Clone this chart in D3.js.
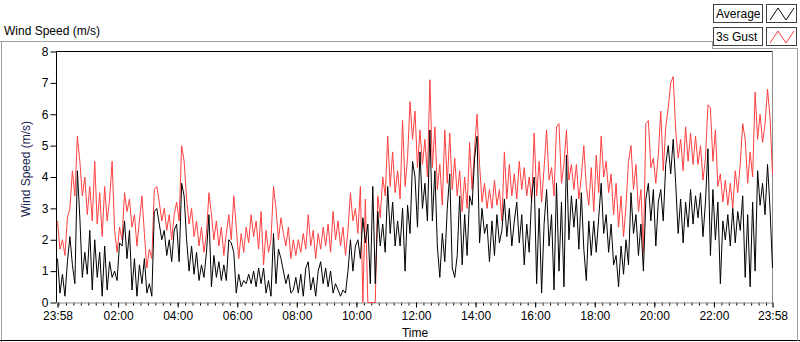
<!DOCTYPE html>
<html>
<head>
<meta charset="utf-8">
<script src="https://cdn.jsdelivr.net/npm/d3@7"></script>
<style>
	body { margin: 0; background: #fff; }
	svg { display: block; font-family: "Liberation Sans", Arial, sans-serif; font-size: 12px; }
	.line { fill: none; stroke-width: 1; }
	.axis text { fill: #000; font-size: 12px; }
</style>
</head>
<body>
<svg class="windChart" width="800" height="342"></svg>
<script>

/* Wind speed log: one sample every 5 minutes, from 23:58 to 23:58 next day */
var startTime = "2014-01-01 23:58";
var stepMinutes = 5;

var seriesNames = ["Average", "3s Gust"];

var gustValues = [
	2.6,1.7,2.0,1.5,2.7,3.0,4.2,3.4,5.3,4.5,
	3.4,4.0,2.8,3.7,2.6,4.5,2.5,3.5,2.1,3.7,
	2.6,3.3,4.5,2.3,1.6,2.4,2.0,3.5,2.9,3.3,
	2.4,2.8,1.8,2.6,3.4,2.2,1.1,1.7,1.4,3.6,
	3.7,3.2,2.6,3.0,2.3,2.8,2.0,2.8,3.2,2.6,
	5.0,4.5,3.3,2.5,3.0,2.1,2.6,1.8,2.4,1.6,
	2.2,3.5,2.8,2.0,2.6,1.8,2.4,1.5,2.2,2.8,
	2.0,3.4,2.4,1.4,2.2,1.6,2.4,1.9,2.8,2.1,
	2.6,1.7,2.9,1.2,2.3,1.6,2.0,3.7,3.0,2.0,
	2.7,2.2,1.8,2.4,1.4,2.0,1.5,2.0,1.6,2.2,
	1.7,2.8,1.8,2.3,1.4,2.2,1.7,2.4,1.8,2.5,
	1.6,2.9,2.0,2.6,1.8,2.4,1.5,2.3,3.5,2.6,
	3.0,2.2,3.7,0.0,3.3,0.0,0.0,0.0,0.0,3.4,
	2.7,4.0,3.4,5.3,3.7,4.8,3.5,4.2,3.3,5.8,
	3.7,4.6,6.4,5.2,6.1,4.3,5.5,4.4,5.2,4.0,
	7.1,4.3,5.6,3.6,4.4,3.1,5.5,3.8,5.4,3.6,
	4.6,3.4,4.2,2.9,4.0,3.0,5.1,3.6,4.9,6.0,
	4.4,3.2,3.8,3.0,3.6,3.0,3.9,3.1,3.6,2.6,
	4.8,3.3,4.4,3.4,4.1,3.3,4.5,3.6,4.3,3.4,
	4.0,3.2,5.4,3.4,4.5,3.2,4.3,5.5,3.9,4.3,
	3.4,5.6,5.7,3.8,4.4,5.5,3.9,4.4,3.6,4.4,
	3.3,4.0,5.0,3.7,3.1,4.3,2.9,4.7,3.5,5.3,
	4.0,4.5,3.5,4.1,2.8,3.8,2.4,3.4,2.1,3.1,
	4.5,5.0,3.6,4.4,2.9,3.6,1.6,5.7,5.8,4.3,
	4.6,3.8,4.7,6.1,4.2,5.6,6.2,7.0,7.2,5.5,
	4.6,5.2,4.2,5.6,4.5,5.4,4.4,5.3,4.4,5.0,
	3.9,4.6,6.3,6.2,4.5,5.5,3.7,4.1,3.2,3.9,
	3.1,3.8,3.0,4.2,3.5,4.4,5.7,5.2,3.8,4.8,
	4.0,6.7,5.2,6.0,5.1,5.7,6.8,5.9,4.1
];

var averageValues = [
	1.4,0.3,0.9,0.2,1.3,2.1,1.2,0.6,4.2,2.7,
	0.8,1.6,0.9,2.3,0.4,2.0,0.8,1.6,0.2,1.8,
	0.4,1.3,0.8,1.0,0.7,1.9,1.8,2.6,1.4,2.3,
	0.4,1.4,0.2,1.2,0.6,1.4,0.3,0.6,0.2,2.9,
	3.0,2.5,2.0,2.3,1.5,2.0,1.3,2.3,2.5,1.3,
	3.8,3.4,2.0,1.0,1.8,0.9,1.6,0.7,1.2,0.8,
	1.6,2.8,0.5,1.5,0.8,1.3,0.7,1.2,0.7,2.0,
	1.9,1.6,0.3,0.9,0.5,0.7,0.6,0.9,0.6,1.0,
	0.5,1.1,0.6,1.1,0.3,0.7,0.2,2.2,0.6,1.7,
	1.4,1.0,0.6,0.9,0.3,0.4,0.8,0.3,0.9,0.2,
	1.1,1.3,0.4,0.8,0.2,1.0,1.3,0.6,1.1,0.5,
	1.0,0.3,0.6,0.4,0.2,0.4,0.3,1.0,2.0,1.0,
	1.8,2.0,1.4,2.7,1.9,2.5,0.6,3.7,0.6,2.9,
	1.8,2.5,1.6,3.7,2.2,3.2,1.8,2.6,1.8,3.0,
	1.0,3.1,2.2,4.5,4.0,2.4,4.8,3.0,3.8,2.6,
	5.5,2.6,4.2,1.8,0.8,2.2,1.3,3.0,4.1,1.1,
	0.8,1.5,3.4,1.2,2.8,1.5,3.4,3.1,4.6,5.3,
	1.9,3.0,2.2,2.5,1.3,2.6,1.5,2.8,1.9,2.3,
	3.3,2.1,3.0,1.8,2.6,3.2,1.9,2.8,1.2,2.5,
	1.6,3.4,4.0,0.6,3.0,0.3,2.5,3.6,1.8,2.8,
	0.4,3.8,1.0,3.2,0.5,4.7,2.0,3.4,2.4,3.3,
	1.7,3.5,1.7,0.7,2.6,1.5,2.6,1.6,2.7,3.8,
	2.2,2.8,1.6,2.5,1.2,1.5,0.5,1.8,0.9,2.0,
	1.2,3.5,2.2,2.8,1.5,2.5,1.0,3.3,3.8,2.6,
	3.6,1.8,3.2,3.6,2.6,4.4,5.0,4.1,5.2,3.8,
	2.2,3.3,1.9,3.2,2.4,3.6,2.5,3.4,2.7,3.5,
	2.1,3.2,4.9,1.5,3.6,2.0,3.2,0.6,2.6,2.0,
	2.8,1.8,3.0,1.9,2.9,2.3,3.4,0.8,2.8,0.5,
	3.2,1.0,4.2,3.1,3.8,2.8,4.4,3.0,1.1
];

var yTickValues = [0, 1, 2, 3, 4, 5, 6, 7, 8];

var xTickTimes = [
	"2014-01-01 23:58", "2014-01-02 02:00", "2014-01-02 04:00", "2014-01-02 06:00",
	"2014-01-02 08:00", "2014-01-02 10:00", "2014-01-02 12:00", "2014-01-02 14:00",
	"2014-01-02 16:00", "2014-01-02 18:00", "2014-01-02 20:00", "2014-01-02 22:00",
	"2014-01-02 23:58"
];


function drawGraph(areaID) {

	var parseTime = d3.timeParse("%Y-%m-%d %H:%M");
	var formatTime = d3.timeFormat("%H:%M");

	var start = parseTime(startTime);
	var ticks = xTickTimes.map(parseTime);
	var end = ticks[ticks.length - 1];

	// Build the two series
	var series = [averageValues, gustValues].map(function(values, k) {
		return {
			name: seriesNames[k],
			values: values.map(function(v, i) {
				return { date: d3.timeMinute.offset(start, i * stepMinutes), value: v };
			})
		};
	});
	var colors = { "Average": "#000000", "3s Gust": "#ff4040" };

	var plot = { left: 57.5, right: 772.5, top: 51.5, bottom: 302.5 };

	var x = d3.scaleTime()
		.domain([start, end])
		.range([plot.left, plot.right]);

	var y = d3.scaleLinear()
		.domain([0, 8])
		.range([plot.bottom, plot.top]);

	var svg = d3.select("." + areaID);

	// Outer frame of the chart control
	var frame = svg.append("g").attr("class", "frame");
	frame.append("line").attr("x1", 0).attr("x2", 712).attr("y1", 41.5).attr("y2", 41.5).attr("stroke", "#a0a0a0");
	frame.append("line").attr("x1", 1.5).attr("x2", 1.5).attr("y1", 41).attr("y2", 342).attr("stroke", "#a0a0a0");
	frame.append("line").attr("x1", 0).attr("x2", 800).attr("y1", 340.5).attr("y2", 340.5).attr("stroke", "#000");
	frame.append("line").attr("x1", 712).attr("x2", 798).attr("y1", 48.5).attr("y2", 48.5).attr("stroke", "#a0a0a0");
	frame.append("line").attr("x1", 712.5).attr("x2", 712.5).attr("y1", 41).attr("y2", 49).attr("stroke", "#a0a0a0");
	frame.append("line").attr("x1", 797.5).attr("x2", 797.5).attr("y1", 48).attr("y2", 341).attr("stroke", "#a0a0a0");

	// Chart caption
	svg.append("text")
		.attr("x", 4)
		.attr("y", 35)
		.style("font-size", "12px")
		.text("Wind Speed (m/s)");

	// Plot border: top black, right gray
	svg.append("line")
		.attr("x1", plot.left - 1).attr("x2", plot.right)
		.attr("y1", plot.top).attr("y2", plot.top)
		.attr("stroke", "#000");
	svg.append("line")
		.attr("x1", plot.right).attr("x2", plot.right)
		.attr("y1", plot.top).attr("y2", plot.bottom)
		.attr("stroke", "#8c8c8c");

	// Minor x ticks every 15 minutes
	var minorAxis = d3.axisBottom(x)
		.tickValues(d3.timeMinute.every(15).range(start, end))
		.tickSize(3)
		.tickFormat("");
	svg.append("g")
		.attr("class", "x minor axis")
		.attr("transform", "translate(0," + plot.bottom + ")")
		.call(minorAxis)
		.call(function(g) { g.select(".domain").remove(); });

	// Major x axis
	var xAxis = d3.axisBottom(x)
		.tickValues(ticks)
		.tickSize(5)
		.tickPadding(4)
		.tickFormat(formatTime);
	var gx = svg.append("g")
		.attr("class", "x axis")
		.attr("transform", "translate(0," + plot.bottom + ")")
		.call(xAxis);
	gx.select(".domain").attr("stroke", "#8c8c8c");
	gx.selectAll("text").attr("font-family", null);

	// Y axis
	var yAxis = d3.axisLeft(y)
		.tickValues(yTickValues)
		.tickSize(6)
		.tickPadding(2);
	var gy = svg.append("g")
		.attr("class", "y axis")
		.attr("transform", "translate(" + (plot.left - 1) + ",0)")
		.call(yAxis);
	gy.select(".domain").attr("d", "M0," + plot.top + "V" + plot.bottom);
	gy.selectAll("text").attr("font-family", null);

	// Axis titles
	svg.append("text")
		.attr("transform", "translate(30," + ((plot.top + plot.bottom) / 2 - 8) + ") rotate(-90)")
		.attr("text-anchor", "middle")
		.attr("fill", "#1c2450")
		.text("Wind Speed (m/s)");

	svg.append("text")
		.attr("x", (plot.left + plot.right) / 2)
		.attr("y", 337)
		.attr("text-anchor", "middle")
		.text("Time");

	// Draw lines, gust first so the average sits on top
	var valueline = d3.line()
		.x(function(d) { return x(d.date); })
		.y(function(d) { return y(d.value); });

	svg.selectAll(".line")
		.data([series[1], series[0]])
	  .enter().append("path")
		.attr("class", "line")
		.attr("stroke", function(d) { return colors[d.name]; })
		.attr("d", function(d) { return valueline(d.values); });

	// Plot legend, top right
	var legend = svg.selectAll(".legend")
		.data(series)
	  .enter().append("g")
		.attr("class", "legend")
		.attr("transform", function(d, i) { return "translate(0," + (i * 23) + ")"; });

	legend.append("rect")
		.attr("x", 713.5).attr("y", 4.5)
		.attr("width", 49).attr("height", 18)
		.attr("fill", "#fff")
		.attr("stroke", "#404040");

	legend.append("text")
		.attr("x", 716)
		.attr("y", 18)
		.text(function(d) { return d.name; });

	legend.append("rect")
		.attr("x", 766.5).attr("y", 4.5)
		.attr("width", 30).attr("height", 18)
		.attr("fill", "#fff")
		.attr("stroke", "#404040");

	legend.append("path")
		.attr("fill", "none")
		.attr("stroke", function(d) { return colors[d.name]; })
		.attr("d", "M770,20L778,8L786,20L794,8");
}

drawGraph("windChart");

</script>
</body>
</html>
